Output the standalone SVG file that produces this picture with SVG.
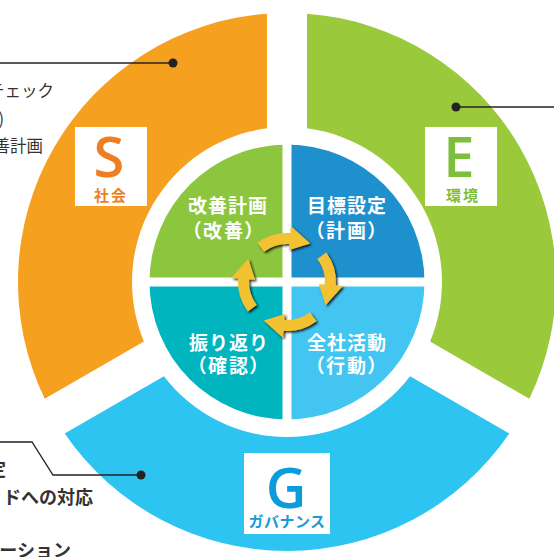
<svg xmlns="http://www.w3.org/2000/svg" xmlns:xlink="http://www.w3.org/1999/xlink" width="554" height="557" viewBox="0 0 554 557">
<style>
  .big { font-family: "Open Sans", "Noto Sans", sans-serif; font-weight: 600; font-size: 56px; text-anchor: middle; }
  .sub { font-family: "Noto Sans CJK JP", sans-serif; font-weight: 700; font-size: 15px; text-anchor: middle; }
  .inner { font-family: "Noto Sans CJK JP", sans-serif; font-weight: 700; font-size: 19px; fill: #fff; text-anchor: middle; letter-spacing: 1px; }
  .paren { font-feature-settings: "palt"; letter-spacing: 2px; }
  .note { font-family: "Noto Sans CJK JP", sans-serif; font-size: 16.5px; fill: #333; }
  .noteb { font-family: "Noto Sans CJK JP", sans-serif; font-size: 18px; font-weight: 700; fill: #333; }
  .box { fill: #fff; }
  .lead { fill: none; stroke: #222; stroke-width: 1.3; }
  .dot { fill: #222; }
</style>
<defs>
  <path id="arw" d="M -29.5 -39.2 A 49 49 0 0 1 3.4 -48.9 L 3.9 -55.9 L 23.2 -38.6 L 2.2 -31.9 L 2.6 -37.9 A 38 38 0 0 0 -22.9 -30.3 Z"/>
  <filter id="sh" x="-30%" y="-30%" width="160%" height="160%">
    <feDropShadow dx="1.6" dy="1.6" stdDeviation="0.8" flood-color="#000" flood-opacity="0.85"/>
  </filter>
</defs>
<rect width="554" height="557" fill="#fff"/>

<g id="seg-S">
  <path d="M 44.7 398.8 A 269 269 0 0 1 267 13.7 L 267 128.3 A 155 155 0 0 0 143.9 341.5 Z" fill="#F6A01F"/>
  <rect class="box" x="75" y="127" width="72" height="79"/>
  <text class="big" x="109" y="177" fill="#EF7E22">S</text>
  <text class="sub" x="111" y="201" fill="#EF7E22" letter-spacing="2">社会</text>
</g>
<g id="seg-E">
  <path d="M 307 13.7 A 269 269 0 0 1 529.3 398.8 L 430.1 341.5 A 155 155 0 0 0 307 128.3 Z" fill="#9ACA3C"/>
  <rect class="box" x="425" y="127" width="72" height="79"/>
  <text class="big" x="459" y="177" fill="#7DBE3C">E</text>
  <text class="sub" x="463" y="201" fill="#7DBE3C" letter-spacing="2">環境</text>
</g>
<g id="seg-G">
  <path d="M 509.3 433.4 A 269 269 0 0 1 64.7 433.4 L 163.9 376.2 A 155 155 0 0 0 410.1 376.2 Z" fill="#2EC4F2"/>
  <rect class="box" x="244" y="453" width="86" height="81"/>
  <text class="big" x="286" y="508" fill="#0B9DDB">G</text>
  <text class="sub" x="287" y="527" fill="#1A9AD6" font-size="14" letter-spacing="0.5">ガバナンス</text>
</g>

<g id="quad-act">
  <path d="M 287 282 L 149.5 282 A 137.5 137.5 0 0 1 287 144.5 Z" fill="#8CC63F"/>
  <text class="inner" x="228" y="213">改善計画</text>
  <text class="inner paren" x="224" y="238">（改善）</text>
</g>
<g id="quad-plan">
  <path d="M 287 282 L 287 144.5 A 137.5 137.5 0 0 1 424.5 282 Z" fill="#1E90CE"/>
  <text class="inner" x="347" y="213">目標設定</text>
  <text class="inner paren" x="347" y="238">（計画）</text>
</g>
<g id="quad-do">
  <path d="M 287 282 L 424.5 282 A 137.5 137.5 0 0 1 287 419.5 Z" fill="#42C5F0"/>
  <text class="inner" x="347" y="350">全社活動</text>
  <text class="inner paren" x="347" y="373">（行動）</text>
</g>
<g id="quad-check">
  <path d="M 287 282 L 287 419.5 A 137.5 137.5 0 0 1 149.5 282 Z" fill="#00B5BD"/>
  <text class="inner" x="229" y="350">振り返り</text>
  <text class="inner paren" x="229" y="373">（確認）</text>
</g>
<g id="gaps" fill="#fff">
  <rect x="282.5" y="140" width="9" height="284"/>
  <rect x="145" y="277.5" width="284" height="9"/>
</g>

<g id="arrows" transform="translate(287 282)" fill="#F2C230" filter="url(#sh)">
  <use xlink:href="#arw"/>
  <use xlink:href="#arw" transform="rotate(90)"/>
  <use xlink:href="#arw" transform="rotate(180)"/>
  <use xlink:href="#arw" transform="rotate(270)"/>
</g>

<g id="connectors">
  <line class="lead" x1="0" y1="63" x2="173" y2="63"/>
  <circle class="dot" cx="173" cy="63" r="4.5"/>
  <line class="lead" x1="456" y1="107" x2="554" y2="107"/>
  <circle class="dot" cx="456" cy="107" r="4.5"/>
  <polyline class="lead" points="0,442 32,442 53,475 141,475" stroke="#444" stroke-width="1"/>
  <circle class="dot" cx="141" cy="475" r="4.5"/>
</g>

<g id="notes">
  <text class="note" x="54" y="97" text-anchor="end">チェック</text>
  <text class="note" x="4" y="125" text-anchor="end">)</text>
  <text class="note" x="43" y="152" text-anchor="end">善計画</text>
  <text class="noteb" x="6" y="476" text-anchor="end">定</text>
  <text class="noteb" x="93" y="504" text-anchor="end">ドへの対応</text>
  <text class="noteb" x="71" y="557" text-anchor="end">ーション</text>
</g>
</svg>
